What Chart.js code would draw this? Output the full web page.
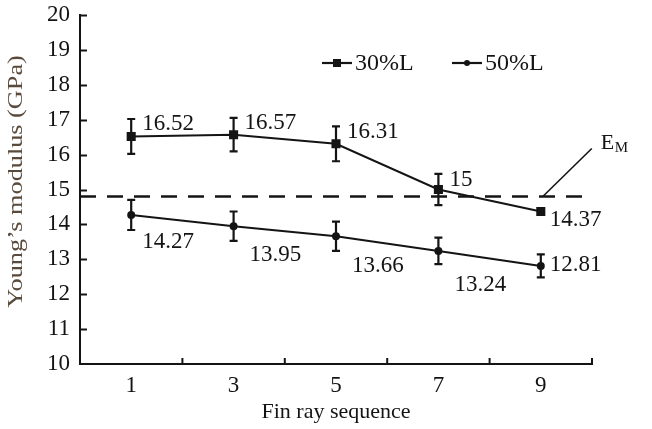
<!DOCTYPE html>
<html>
<head>
<meta charset="utf-8">
<script src="https://cdn.jsdelivr.net/npm/chart.js@4"></script>
<style>
  html, body { margin: 0; padding: 0; background: #fff; }
  #wrap { width: 652px; height: 429px; }
</style>
</head>
<body>
<div id="wrap"><canvas id="young"></canvas></div>
<script>
const labels = ['1', '3', '5', '7', '9'];
const series30 = [16.52, 16.57, 16.31, 15, 14.37];
const series50 = [14.27, 13.95, 13.66, 13.24, 12.81];
const err30 = [0.5, 0.48, 0.5, 0.45, 0];
const err50 = [0.43, 0.42, 0.42, 0.38, 0.33];
const emValue = [14.8];
const yTicks = [10, 20, 1]; // min, max, step

const serif = "'Liberation Serif', 'Times New Roman', serif";
const ink = '#141414';

// where each value label sits relative to its point (dx, dy)
const labelOffsets = [
  [[11, -12], [11, -12], [11, -12], [11, -10], [9, 8]],
  [[11, 27], [16, 29], [16, 30], [16, 34], [9, -1]]
];
const errors = [err30, err50];

const decor = {
  id: 'decor',
  beforeDatasetsDraw(chart) {
    const ctx = chart.ctx, x = chart.scales.x, y = chart.scales.y;
    const a = chart.chartArea;
    ctx.save();
    ctx.strokeStyle = ink;
    ctx.lineWidth = 2;
    // inward ticks on y
    for (let v = yTicks[0] + 1; v <= yTicks[1]; v += yTicks[2]) {
      const py = Math.round(y.getPixelForValue(v)) + 0.5;
      ctx.beginPath();
      ctx.moveTo(a.left, py);
      ctx.lineTo(a.left + 7, py);
      ctx.stroke();
    }
    // inward ticks on x at category borders
    const half = (x.getPixelForValue(1) - x.getPixelForValue(0)) / 2;
    labels.forEach((l, i) => {
      const px = x.getPixelForValue(i) + half;
      ctx.beginPath();
      ctx.moveTo(px, a.bottom);
      ctx.lineTo(px, a.bottom - 6);
      ctx.stroke();
    });
    // E_M dashed reference line
    const yem = y.getPixelForValue(emValue[0]);
    const xEnd = x.getPixelForValue(labels.length - 1) + 44;
    ctx.lineWidth = 2.5;
    ctx.setLineDash([16, 11]);
    ctx.beginPath();
    ctx.moveTo(a.left, yem);
    ctx.lineTo(xEnd, yem);
    ctx.stroke();
    ctx.setLineDash([]);
    // leader + label
    const x4 = x.getPixelForValue(labels.length - 1);
    ctx.lineWidth = 1.6;
    ctx.beginPath();
    ctx.moveTo(x4 + 2, yem);
    ctx.lineTo(x4 + 51, yem - 48);
    ctx.stroke();
    ctx.fillStyle = ink;
    ctx.textBaseline = 'middle';
    ctx.textAlign = 'left';
    ctx.font = '22px ' + serif;
    ctx.fillText('E', x4 + 60, yem - 53);
    ctx.font = '15px ' + serif;
    ctx.fillText('M', x4 + 74, yem - 48);
    // y title, stretched along its length like the original
    ctx.save();
    ctx.translate(16, a.top + (a.bottom - a.top) / 2 - 8);
    ctx.rotate(-Math.PI / 2);
    ctx.scale(1.25, 1);
    ctx.font = '21px ' + serif;
    ctx.fillStyle = '#5a4a3c';
    ctx.textAlign = 'center';
    ctx.fillText('Young’s modulus (GPa)', 0, 0);
    ctx.restore();
    ctx.restore();
  },
  afterDatasetsDraw(chart) {
    const ctx = chart.ctx, x = chart.scales.x, y = chart.scales.y;
    ctx.save();
    ctx.strokeStyle = ink;
    ctx.fillStyle = ink;
    ctx.lineWidth = 2.2;
    chart.data.datasets.forEach((ds, di) => {
      ds.data.forEach((v, i) => {
        const px = x.getPixelForValue(i);
        const e = errors[di][i];
        if (e > 0) {
          const t = y.getPixelForValue(v + e), b = y.getPixelForValue(v - e);
          ctx.beginPath();
          ctx.moveTo(px, t); ctx.lineTo(px, b);
          ctx.moveTo(px - 4, t); ctx.lineTo(px + 4, t);
          ctx.moveTo(px - 4, b); ctx.lineTo(px + 4, b);
          ctx.stroke();
        }
        const off = labelOffsets[di][i];
        ctx.font = '23px ' + serif;
        ctx.textAlign = 'left';
        ctx.textBaseline = 'middle';
        ctx.fillText(String(v), px + off[0], y.getPixelForValue(v) + off[1]);
      });
    });
    // legend: line with marker, then label
    const items = [[322, 352, 355], [452, 482, 485]];
    chart.data.datasets.forEach((ds, di) => {
      const it = items[di], ly = 63;
      ctx.lineWidth = 2.2;
      ctx.beginPath();
      ctx.moveTo(it[0], ly); ctx.lineTo(it[1], ly);
      ctx.stroke();
      const cx = (it[0] + it[1]) / 2;
      if (ds.pointStyle === 'rect') {
        ctx.fillRect(cx - 4, ly - 4, 8, 8);
      } else {
        ctx.beginPath(); ctx.arc(cx, ly, 3, 0, Math.PI * 2); ctx.fill();
      }
      ctx.font = '24px ' + serif;
      ctx.textBaseline = 'middle';
      ctx.fillText(ds.label, it[2], ly + 1);
    });
    ctx.restore();
  }
};

new Chart(document.getElementById('young'), {
  type: 'line',
  data: {
    labels: labels,
    datasets: [{
      label: '30%L',
      data: series30,
      borderColor: ink,
      backgroundColor: ink,
      borderWidth: 2,
      pointStyle: 'rect',
      pointRadius: 5,
      pointHoverRadius: 5
    }, {
      label: '50%L',
      data: series50,
      borderColor: ink,
      backgroundColor: ink,
      borderWidth: 2,
      pointStyle: 'circle',
      pointRadius: 3,
      pointHoverRadius: 3
    }]
  },
  options: {
    responsive: true,
    maintainAspectRatio: false,
    animation: false,
    layout: { padding: { left: 0, top: 15, right: 60, bottom: 0 } },
    plugins: { legend: { display: false }, tooltip: { enabled: false } },
    scales: {
      x: {
        offset: true,
        grid: { display: false, drawTicks: false },
        border: { display: true, color: ink, width: 2 },
        ticks: { color: ink, padding: 8, font: { family: serif, size: 23 } },
        title: { display: true, text: 'Fin ray sequence', color: ink, font: { family: serif, size: 22 }, padding: 4 },
        afterFit(s) { s.height = 65; }
      },
      y: {
        min: yTicks[0],
        max: yTicks[1],
        grid: { display: false, drawTicks: false },
        border: { display: true, color: ink, width: 2 },
        ticks: { stepSize: yTicks[2], color: ink, padding: 10, font: { family: serif, size: 23 } },
        title: { display: false },
        afterFit(s) { s.width = 80; s.paddingTop = 0; s.paddingBottom = 0; }
      }
    }
  },
  plugins: [decor]
});
</script>
</body>
</html>
